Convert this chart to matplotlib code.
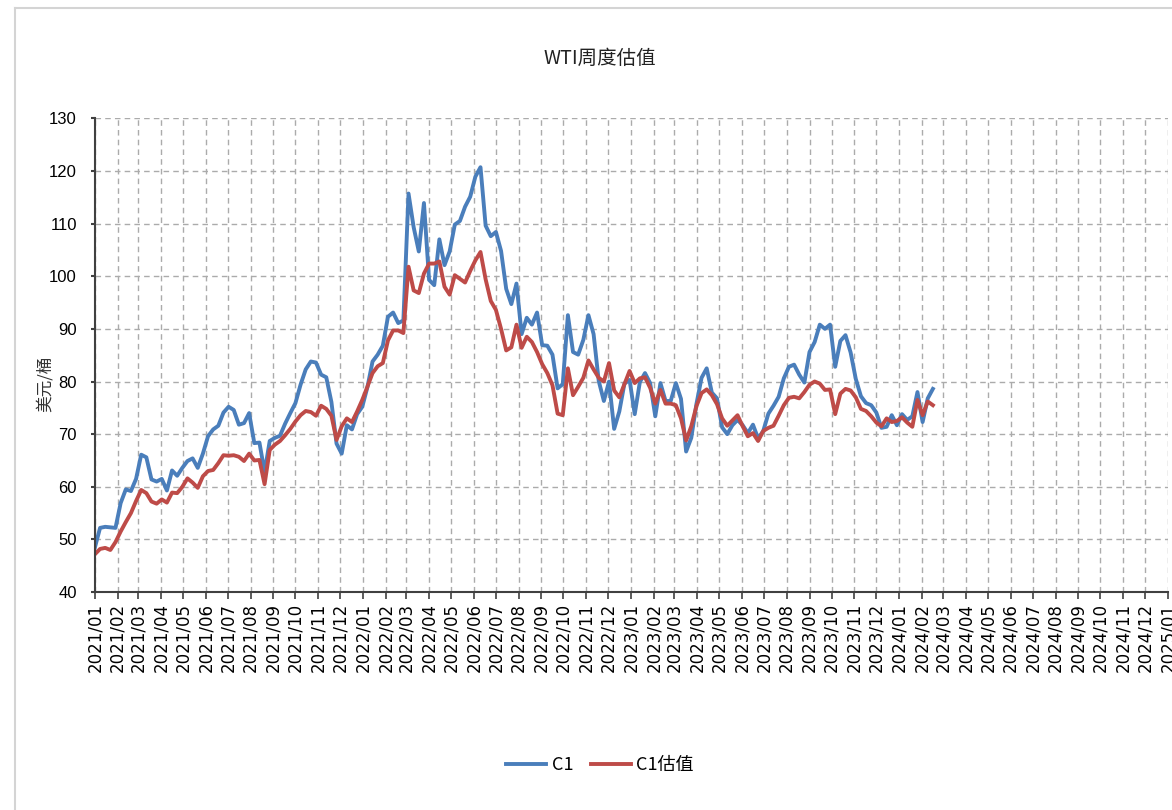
import matplotlib
matplotlib.use("Agg")
import matplotlib.pyplot as plt
from matplotlib.lines import Line2D
import pandas as pd

plt.rcParams['font.family'] = ['Noto Sans CJK SC', 'DejaVu Sans']

# 周度数据: 2021-01-01 起每周五
week_start = '2021-01-01'
n_weeks = 164

c1_2021 = [48.5, 52.2, 52.4, 52.3, 52.2, 56.9, 59.5, 59.2, 61.5, 66.1, 65.6, 61.4, 61.0,
           61.5, 59.3, 63.1, 62.1, 63.6, 64.9, 65.4, 63.6, 66.3, 69.6, 70.9, 71.6, 74.1,
           75.2, 74.6, 71.8, 72.1, 74.0, 68.3, 68.4, 62.8, 68.7, 69.3, 69.7, 72.0, 74.0,
           75.9, 79.4, 82.3, 83.8, 83.6, 81.3, 80.8, 76.1, 68.2, 66.3, 71.7, 70.9, 73.8, 75.2]
c1_2022 = [78.9, 83.8, 85.1, 86.8, 92.3, 93.1, 91.1, 91.6, 115.7, 109.3, 104.7, 113.9, 99.3,
           98.3, 107.0, 102.1, 104.7, 109.8, 110.5, 113.2, 115.1, 118.9, 120.7, 109.6, 107.6,
           108.4, 104.8, 97.6, 94.7, 98.6, 89.0, 92.1, 90.8, 93.1, 86.9, 86.8, 85.1, 78.7,
           79.5, 92.6, 85.6, 85.1, 87.9, 92.6, 89.0, 80.1, 76.3, 80.0, 71.0, 74.3, 79.6, 80.3]
c1_2023 = [73.8, 79.9, 81.6, 79.7, 73.4, 79.7, 76.3, 76.3, 79.7, 76.7, 66.7, 69.3, 75.7,
           80.7, 82.5, 77.9, 76.8, 71.3, 70.0, 71.7, 72.7, 71.7, 70.2, 71.8, 69.2, 70.6,
           73.9, 75.4, 77.1, 80.6, 82.8, 83.2, 81.3, 79.8, 85.6, 87.5, 90.8, 90.0, 90.8,
           82.8, 87.7, 88.8, 85.5, 80.5, 77.2, 75.9, 75.5, 74.1, 71.2, 71.4, 73.6, 71.7]
c1_2024 = [73.8, 72.7, 73.4, 78.0, 72.3, 76.8, 78.6]

est_2021 = [47.2, 48.2, 48.4, 48.0, 49.5, 51.5, 53.3, 55.0, 57.3, 59.4, 58.8, 57.2, 56.8,
            57.6, 57.0, 58.9, 58.8, 60.0, 61.6, 60.8, 59.8, 62.0, 63.0, 63.2, 64.5, 66.0,
            65.9, 66.0, 65.7, 64.9, 66.3, 65.0, 65.1, 60.5, 67.0, 68.0, 68.7, 69.8, 71.0,
            72.4, 73.6, 74.4, 74.2, 73.5, 75.4, 74.8, 73.5, 68.9, 71.5, 73.0, 72.3, 74.3, 76.5]
est_2022 = [79.0, 81.6, 82.9, 83.5, 87.8, 89.7, 89.7, 89.2, 101.8, 97.3, 96.8, 100.5, 102.4,
            102.4, 102.8, 98.0, 96.5, 100.2, 99.5, 98.8, 101.0, 103.0, 104.6, 99.4, 95.3,
            93.6, 90.0, 85.9, 86.5, 90.8, 86.4, 88.5, 87.5, 85.6, 83.3, 81.6, 79.3, 73.9,
            73.6, 82.5, 77.4, 79.0, 80.7, 84.0, 82.3, 80.7, 80.0, 83.5, 78.3, 77.0, 79.5, 82.0]
est_2023 = [79.7, 80.6, 80.8, 78.8, 75.8, 78.4, 75.8, 75.8, 75.5, 73.0, 68.8, 71.5, 75.3,
            77.8, 78.5, 77.4, 75.7, 73.0, 71.6, 72.6, 73.6, 71.5, 69.6, 70.2, 68.7, 70.6,
            71.2, 71.6, 73.5, 75.5, 76.9, 77.1, 76.8, 78.0, 79.4, 80.0, 79.6, 78.4, 78.5,
            73.8, 77.7, 78.6, 78.3, 77.0, 74.8, 74.4, 73.4, 72.2, 71.5, 73.0, 72.3, 72.5]
est_2024 = [73.2, 72.2, 71.4, 76.5, 73.6, 76.2, 75.5]

c1 = c1_2021 + c1_2022 + c1_2023 + c1_2024
c1_est = est_2021 + est_2022 + est_2023 + est_2024
dates = pd.date_range(week_start, periods=n_weeks, freq='7D')

month_ticks = pd.date_range('2021-01-01', '2025-01-01', freq='MS')
month_labels = [d.strftime('%Y/%m') for d in month_ticks]

blue = '#4A7EBB'
red = '#BE4B48'

fig = plt.figure(figsize=(11.72, 8.1), dpi=100)
ax = fig.add_axes([0.081, 0.269, 0.9155, 0.585])

# 外框
fig.add_artist(Line2D([15 / 1172, 1], [1 - 8 / 810, 1 - 8 / 810], transform=fig.transFigure,
                      color='#D4D4D4', lw=1.5))
fig.add_artist(Line2D([15 / 1172, 15 / 1172], [0, 1 - 8 / 810], transform=fig.transFigure,
                      color='#D4D4D4', lw=1.5))

ax.plot(dates, c1, color=blue, lw=2.8, label='C1', solid_joinstyle='round')
ax.plot(dates, c1_est, color=red, lw=2.8, label='C1估值', solid_joinstyle='round')

ax.set_xlim(month_ticks[0], month_ticks[-1])
ax.set_ylim(40, 130)
ax.set_yticks(range(40, 131, 10))
ax.set_xticks(month_ticks)
ax.set_xticklabels(month_labels, rotation=90, fontsize=12, family=['DejaVu Sans'])
for lab in ax.get_yticklabels():
    lab.set_family(['Liberation Sans Narrow', 'Liberation Sans', 'DejaVu Sans'])
    lab.set_fontsize(12)

ax.grid(True, color='#ABABAB', lw=1.0, linestyle=(0, (4, 3)))
ax.set_axisbelow(True)
for s in ['top', 'right']:
    ax.spines[s].set_visible(False)
for s in ['left', 'bottom']:
    ax.spines[s].set_color('#404040')
    ax.spines[s].set_linewidth(1.5)
ax.tick_params(axis='y', direction='out', length=3, width=1.5, color='#404040', pad=10)
ax.tick_params(axis='x', direction='out', length=5, width=1.2, color='#404040', pad=3)

ax.set_ylabel('美元/桶', fontsize=12, color='#333333')
ax.yaxis.set_label_coords(-0.038, 0.44)
fig.text(0.512, 0.928, 'WTI周度估值', ha='center', va='center', fontsize=14, color='#222222')

fig.legend(handles=ax.get_lines(), labels=['C1', 'C1估值'], loc='center',
           bbox_to_anchor=(0.512, 0.055), ncol=2, frameon=False, fontsize=13,
           handlelength=2.2, columnspacing=1.0, handletextpad=0.3)

fig.savefig('out.png', dpi=100)
